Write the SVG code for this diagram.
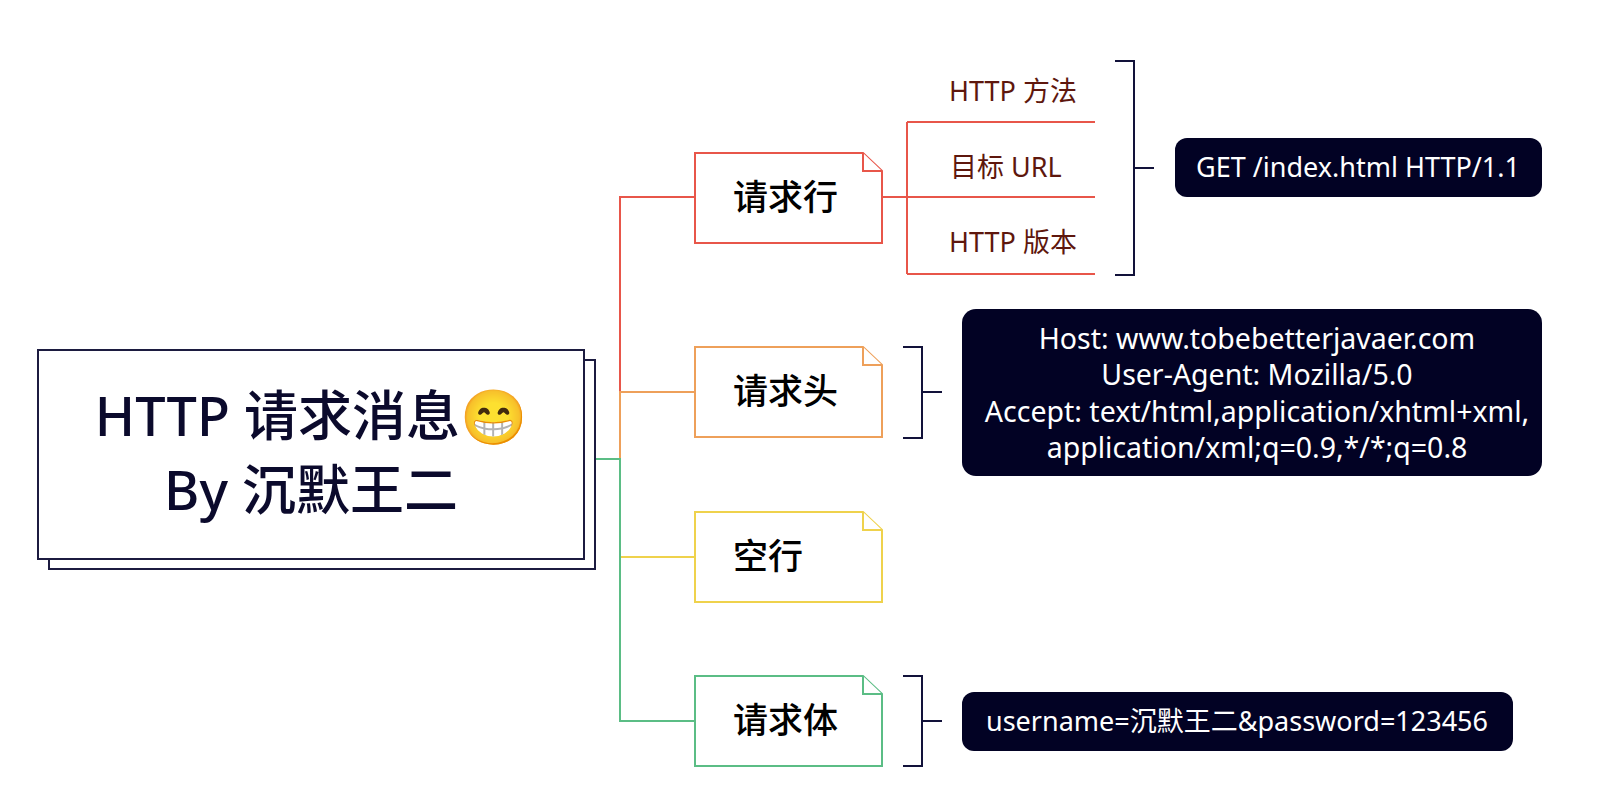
<svg xmlns="http://www.w3.org/2000/svg" width="1604" height="800" viewBox="0 0 1604 800">
<style>
.bg{fill:#ffffff}
.c{fill:none;stroke-width:2}
.red{stroke:#e8564a}
.org{stroke:#eea05a}
.yel{stroke:#efd24c}
.grn{stroke:#5bbd85}
.nv{fill:none;stroke:#12123a;stroke-width:2}
.node{fill:#ffffff;stroke-width:2}
.fold{fill:#ffffff;stroke-width:2}
.lbl{font-family:"Noto Sans","Noto Sans CJK SC",sans-serif;font-size:35px;font-weight:500;fill:#000000}
.sub{font-family:"Noto Sans","Noto Sans CJK SC",sans-serif;font-size:27px;fill:#5e170d}
.dark{fill:#020224}
.wt{font-family:"Noto Sans","Noto Sans CJK SC",sans-serif;fill:#ffffff;text-anchor:middle}
.title{font-family:"Noto Sans","Noto Sans CJK SC","Noto Color Emoji",sans-serif;font-size:54px;font-weight:500;fill:#0b0a2c;text-anchor:middle}
</style>
<rect class="bg" x="0" y="0" width="1604" height="800"/>

<g id="connectors">
  <path class="c red" d="M620,459 V197 H695"/>
  <path class="c org" d="M620,459 V392 H695"/>
  <path class="c yel" d="M620,459 V557 H695"/>
  <path class="c grn" d="M595,459 H620 V721 H695"/>
  <path class="c red" d="M882,197 H907 M907,122 V274 M907,122 H1095 M907,197 H1095 M907,274 H1095"/>
  <path class="nv" d="M1115,61 H1134 V275 H1115 M1134,168 H1154"/>
  <path class="nv" d="M903,347 H922 V438 H903 M922,392 H942"/>
  <path class="nv" d="M903,676 H922 V766 H903 M922,721 H942"/>
</g>

<g id="root">
  <rect x="49" y="360" width="546" height="209" fill="#ffffff" stroke="#1c1b40" stroke-width="2"/>
  <rect x="38" y="350" width="546" height="209" fill="#ffffff" stroke="#1c1b40" stroke-width="2"/>
  <text class="title" x="311" y="436">HTTP 请求消息😁</text>
  <text class="title" x="311" y="510">By 沉默王二</text>
</g>

<g id="node-request-line">
  <path class="node red" d="M695,153 H863 L882,171 V243 H695 Z"/>
  <path class="fold red" d="M863,153 V171 H882"/>
  <text class="lbl" x="733" y="210">请求行</text>
</g>

<g id="sub-method">
  <text class="sub" x="949" y="101">HTTP 方法</text>
</g>
<g id="sub-url">
  <text class="sub" x="950" y="177">目标 URL</text>
</g>
<g id="sub-version">
  <text class="sub" x="949" y="252">HTTP 版本</text>
</g>

<g id="get-box">
  <rect class="dark" x="1175" y="138" width="367" height="59" rx="12"/>
  <text class="wt" x="1358" y="177" font-size="27">GET /index.html HTTP/1.1</text>
</g>

<g id="node-headers">
  <path class="node org" d="M695,347 H863 L882,365 V437 H695 Z"/>
  <path class="fold org" d="M863,347 V365 H882"/>
  <text class="lbl" x="733" y="404">请求头</text>
</g>

<g id="headers-box">
  <rect class="dark" x="962" y="309" width="580" height="167" rx="14"/>
  <text class="wt" font-size="28.5" x="1257" y="349">Host: www.tobebetterjavaer.com</text>
  <text class="wt" font-size="28.5" x="1257" y="385">User-Agent: Mozilla/5.0</text>
  <text class="wt" font-size="28.5" x="1257" y="422">Accept: text/html,application/xhtml+xml,</text>
  <text class="wt" font-size="28.5" x="1257" y="458">application/xml;q=0.9,*/*;q=0.8</text>
</g>

<g id="node-blank">
  <path class="node yel" d="M695,512 H863 L882,530 V602 H695 Z"/>
  <path class="fold yel" d="M863,512 V530 H882"/>
  <text class="lbl" x="733" y="569">空行</text>
</g>

<g id="node-body">
  <path class="node grn" d="M695,676 H863 L882,694 V766 H695 Z"/>
  <path class="fold grn" d="M863,676 V694 H882"/>
  <text class="lbl" x="733" y="733">请求体</text>
</g>

<g id="body-box">
  <rect class="dark" x="962" y="692" width="551" height="59" rx="12"/>
  <text class="wt" font-size="27" x="1237" y="731">username=沉默王二&amp;password=123456</text>
</g>
</svg>
